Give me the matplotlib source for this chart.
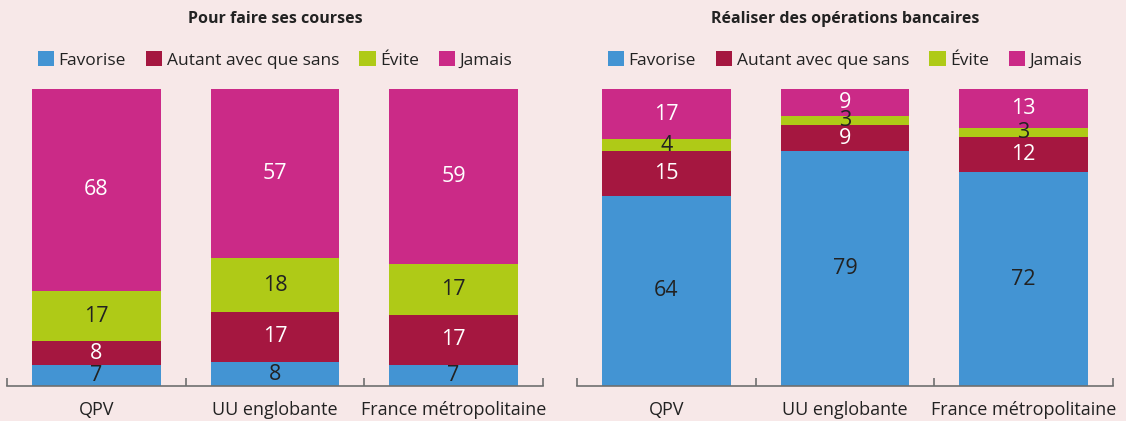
import matplotlib
matplotlib.use("Agg")
import matplotlib.pyplot as plt
from matplotlib.patches import Patch

categories = ["QPV", "UU englobante", "France métropolitaine"]
series_names = ["Favorise", "Autant avec que sans", "Évite", "Jamais"]

courses_favorise = [7, 8, 7]
courses_autant = [8, 17, 17]
courses_evite = [17, 18, 17]
courses_jamais = [68, 57, 59]

banque_favorise = [64, 79, 72]
banque_autant = [15, 9, 12]
banque_evite = [4, 3, 3]
banque_jamais = [17, 9, 13]

titles = ["Pour faire ses courses", "Réaliser des opérations bancaires"]

colors = ["#4394d3", "#a51740", "#afca17", "#cb2a87"]
text_colors = ["#222222", "white", "#222222", "white"]
bg = "#f7e8e8"

plt.rcParams['font.family'] = ['Open Sans', 'DejaVu Sans']

W, H = 1126, 421
fig = plt.figure(figsize=(W / 100, H / 100), dpi=100, facecolor=bg)

ax_h = 297
panels = [
    ([courses_favorise, courses_autant, courses_evite, courses_jamais],
     [7 / W, 1 - 386 / H, 536 / W, ax_h / H]),
    ([banque_favorise, banque_autant, banque_evite, banque_jamais],
     [577 / W, 1 - 386 / H, 536 / W, ax_h / H]),
]

for (series, rect), title in zip(panels, titles):
    ax = fig.add_axes(rect)
    ax.set_facecolor(bg)
    x = range(len(categories))
    bottom = [0] * len(categories)
    for vals, col, tcol, name in zip(series, colors, text_colors, series_names):
        ax.bar(x, vals, width=0.72, bottom=bottom, color=col, label=name)
        for xi, v, b in zip(x, vals, bottom):
            ax.text(xi, b + v / 2, str(v), ha="center", va="center",
                    color=tcol, fontsize=15.5)
        bottom = [b + v for b, v in zip(bottom, vals)]
    ax.set_xlim(-0.5, 2.5)
    ax.set_ylim(0, 100)
    for s in ["top", "right", "left"]:
        ax.spines[s].set_visible(False)
    ax.spines["bottom"].set_color("#6f6f6f")
    ax.spines["bottom"].set_linewidth(1.2)
    ax.set_yticks([])
    ax.set_xticks([-0.5, 0.5, 1.5, 2.5])
    ax.set_xticklabels([])
    ax.tick_params(axis="x", direction="in", length=6, color="#6f6f6f", width=1.2)
    for xi, c in enumerate(categories):
        ax.text(xi, -24 / ax_h, c, transform=ax.get_xaxis_transform(), ha="center",
                va="center", fontsize=13, color="#222222")
    ax.text(0.5, 367 / ax_h, title, transform=ax.transAxes, ha="center",
            va="center", fontsize=11.5, fontweight="bold", color="#222222")
    handles = [Patch(facecolor=c, edgecolor="none") for c in colors]
    ax.legend(handles, series_names, loc="center", bbox_to_anchor=(0.5, 326 / ax_h),
              ncol=4, frameon=False, fontsize=12.5, handlelength=0.95, handleheight=0.95,
              handletextpad=0.25, columnspacing=1.15, borderaxespad=0,
              labelcolor="#222222")

fig.savefig("out.png", dpi=100, facecolor=bg)
